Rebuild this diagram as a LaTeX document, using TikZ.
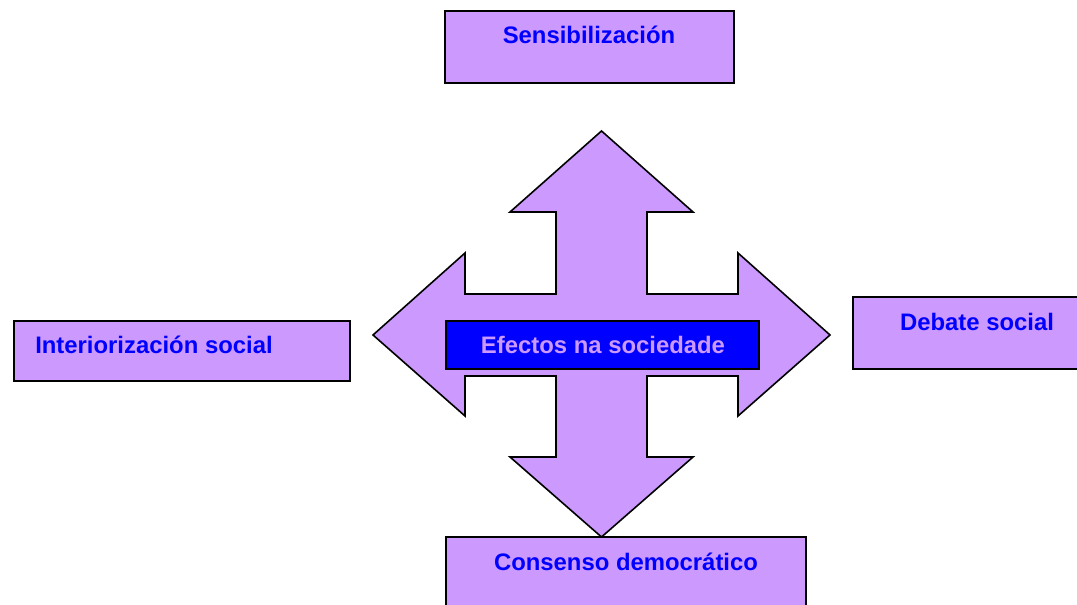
\documentclass[tikz,border=0pt]{standalone}
\usepackage{fontspec}
\setmainfont{Liberation Sans}
\definecolor{lila}{HTML}{CC99FF}
\definecolor{azul}{HTML}{0000FF}
\begin{document}
\begin{tikzpicture}[x=0.75pt,y=-0.75pt,font=\fontsize{17.9}{20}\selectfont\bfseries,
	caixa/.style={draw=black,line width=1.5pt,fill=lila},
	texto/.style={inner sep=0pt,anchor=base,text=azul}]
	\useasboundingbox (0,0) rectangle (1077,605);
	% Frecha de catro puntas
	\draw[fill=lila,line width=1.2pt,line join=miter]
		(601.5,131)--(693,212)--(647,212)--(647,294)--(738,294)--(738,253)--(830,335)
		--(738,416)--(738,376)--(647,376)--(647,457)--(693,457)--(601.5,537)--(510,457)
		--(556,457)--(556,376)--(465,376)--(465,416)--(373,335)--(465,253)--(465,294)
		--(556,294)--(556,212)--(510,212)--cycle;
	% Caixa central
	\draw[line width=1.5pt,fill=azul] (446,321) rectangle (759,369);
	\node[texto,text=lila] (efectos) at (603,354) {Efectos na sociedade};
	% Caixas de fóra
	\draw[caixa] (445,11) rectangle (734,83);
	\node[texto] (sensib) at (589,44) {Sensibilización};
	\draw[caixa] (14,321) rectangle (350,381);
	\node[texto,anchor=base west] (interior) at (35,354) {Interiorización social};
	\draw[caixa] (853,297) rectangle (1080,369);
	\node[texto] (debate) at (977,331) {Debate social};
	\draw[caixa] (446,537) rectangle (806,608);
	\node[texto] (consenso) at (626,570) {Consenso democrático};
\end{tikzpicture}
\end{document}
